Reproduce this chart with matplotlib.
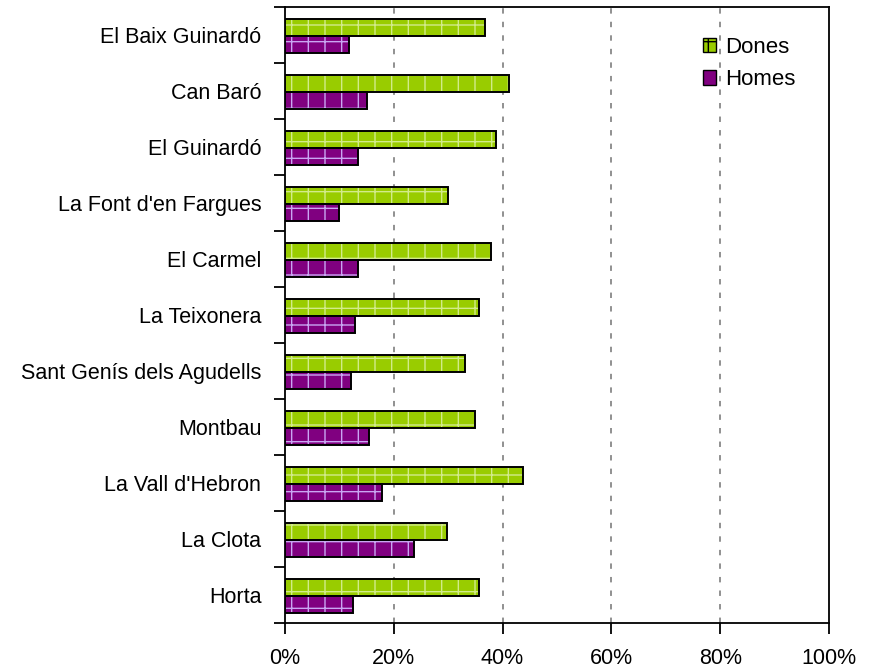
import matplotlib
matplotlib.use('Agg')
import matplotlib.pyplot as plt
import numpy as np
from matplotlib.patches import Patch

# neighbourhoods, top to bottom as in the chart
barris = ['El Baix Guinardó', 'Can Baró', 'El Guinardó', "La Font d'en Fargues",
          'El Carmel', 'La Teixonera', 'Sant Genís dels Agudells', 'Montbau',
          "La Vall d'Hebron", 'La Clota', 'Horta']
dones = [36.7, 41.2, 38.8, 29.9, 37.8, 35.6, 33.1, 35.0, 43.8, 29.7, 35.6]
homes = [11.8, 15.0, 13.4, 9.9, 13.4, 12.8, 12.1, 15.5, 17.8, 23.7, 12.5]
xticks = [0, 20, 40, 60, 80, 100]

verd = '#99cc00'
lila = '#800080'

plt.rcParams['font.family'] = ['Liberation Sans', 'DejaVu Sans']
plt.rcParams['hatch.linewidth'] = 1.0

fig = plt.figure(figsize=(8.74, 6.72), dpi=100)
ax = fig.add_axes([0.326, 0.073, 0.6225, 0.917])

y = np.arange(len(barris))
h = 0.31

# fill + hatch (hatch colour taken from edgecolor), then black outline on top
ax.barh(y - 0.13, dones, height=h, color=verd, edgecolor='#d2eb8a', hatch='+', lw=0, zorder=3)
ax.barh(y - 0.13, dones, height=h, facecolor='none', edgecolor='black', lw=1.4, zorder=4)
ax.barh(y + 0.17, homes, height=h, color=lila, edgecolor='#c9a6f2', hatch='+', lw=0, zorder=3)
ax.barh(y + 0.17, homes, height=h, facecolor='none', edgecolor='black', lw=1.4, zorder=4)

ax.set_xlim(0, 100)
ax.set_ylim(len(barris) - 0.5, -0.5)
ax.set_xticks(xticks)
ax.set_xticklabels([f'{v}%' for v in xticks], fontsize=15.5)
ax.set_yticks(y)
ax.set_yticklabels(barris, fontsize=15.5)
ax.set_yticks(np.arange(len(barris) + 1) - 0.5, minor=True)
ax.tick_params(axis='y', which='major', length=0, pad=17)
ax.tick_params(axis='y', which='minor', length=8, width=1.3)
ax.tick_params(axis='x', length=8, width=1.3, pad=10)

for v in xticks[1:-1]:
    ax.axvline(v, color='#888888', lw=1.3, ls=(0, (3, 4.5)), zorder=1)

for s in ax.spines.values():
    s.set_linewidth(1.3)

handles = [Patch(facecolor=verd, edgecolor='black', hatch='+', label='Dones'),
           Patch(facecolor=lila, edgecolor='black', label='Homes')]
ax.legend(handles=handles, loc='upper right', bbox_to_anchor=(0.975, 0.983), frameon=False,
          fontsize=16, handlelength=0.6, handleheight=0.6, handletextpad=0.4,
          labelspacing=0.5)

fig.savefig('out.png', dpi=100)
